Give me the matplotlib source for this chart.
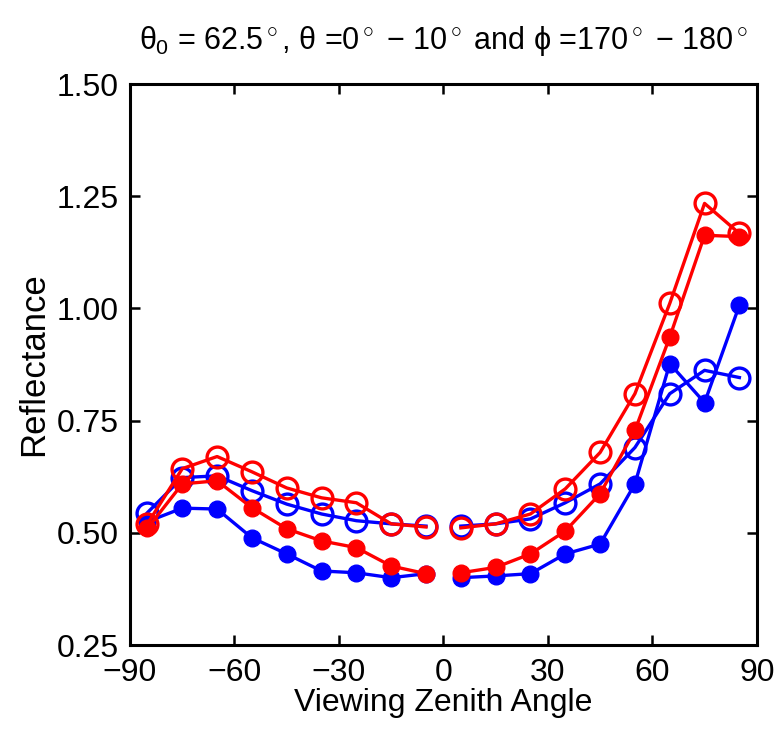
import matplotlib
matplotlib.use("Agg")
import matplotlib.pyplot as plt
import numpy as np

plt.rcParams['font.family'] = ['Liberation Sans', 'DejaVu Sans']
plt.rcParams['mathtext.fontset'] = 'custom'
plt.rcParams['mathtext.rm'] = 'Liberation Sans'
plt.rcParams['mathtext.it'] = 'Liberation Sans'
plt.rcParams['mathtext.sf'] = 'Liberation Sans'

angles_left = [-85, -75, -65, -55, -45, -35, -25, -15, -5]
angles_right = [5, 15, 25, 35, 45, 55, 65, 75, 85]

blue_open_left = [0.545, 0.623, 0.627, 0.594, 0.564, 0.542, 0.527, 0.520, 0.515]
blue_open_right = [0.515, 0.520, 0.531, 0.567, 0.609, 0.690, 0.810, 0.862, 0.846]
blue_filled_left = [0.525, 0.555, 0.553, 0.489, 0.453, 0.415, 0.411, 0.400, 0.409]
blue_filled_right = [0.400, 0.404, 0.409, 0.453, 0.475, 0.609, 0.877, 0.790, 1.007]
red_open_left = [0.520, 0.643, 0.670, 0.636, 0.600, 0.578, 0.567, 0.520, 0.513]
red_open_right = [0.511, 0.520, 0.542, 0.598, 0.679, 0.810, 1.011, 1.234, 1.167]
red_filled_left = [0.510, 0.609, 0.616, 0.556, 0.509, 0.482, 0.467, 0.426, 0.409]
red_filled_right = [0.411, 0.423, 0.453, 0.504, 0.587, 0.728, 0.936, 1.163, 1.160]

xticks = [-90, -60, -30, 0, 30, 60, 90]
yticks = [0.25, 0.50, 0.75, 1.00, 1.25, 1.50]

fig = plt.figure(figsize=(7.81, 7.35), dpi=100)
ax = fig.add_axes([0.1665, 0.1224, 0.8025, 0.7633])

lw = 2.4
series = [
    ('#0000ff', blue_open_left, blue_open_right, False),
    ('#0000ff', blue_filled_left, blue_filled_right, True),
    ('#ff0000', red_open_left, red_open_right, False),
    ('#ff0000', red_filled_left, red_filled_right, True),
]
for color, left, right, filled in series:
    for xs, ys in ((angles_left, left), (angles_right, right)):
        if filled:
            ax.plot(xs, ys, '-o', color=color, lw=lw, ms=12,
                    mfc=color, mec=color)
        else:
            ax.plot(xs, ys, '-o', color=color, lw=lw, ms=15,
                    mfc='none', mec=color, mew=2.4)

ax.set_xlim(-90, 90)
ax.set_ylim(0.25, 1.50)
ax.set_xticks(xticks)
ax.set_xticklabels(['\u221290', '\u221260', '\u221230', '0', '30', '60', '90'])
ax.set_yticks(yticks)
ax.set_yticklabels(['%.2f' % v for v in yticks])
ax.tick_params(direction='in', length=7, width=1.8, labelsize=23,
               top=True, right=True)
ax.tick_params(axis='x', pad=9)
ax.tick_params(axis='y', pad=8)
for s in ax.spines.values():
    s.set_linewidth(2.2)

ax.set_xlabel('Viewing Zenith Angle', fontsize=23, labelpad=0)
ax.set_ylabel('Reflectance', fontsize=25, labelpad=5)
ax.set_title(r'$\theta_0$ = 62.5$^\circ$, $\theta$ =0$^\circ$ $-$ 10$^\circ$ and $\phi$ =170$^\circ$ $-$ 180$^\circ$',
             fontsize=22, pad=25)

fig.savefig('out.png', dpi=100)
